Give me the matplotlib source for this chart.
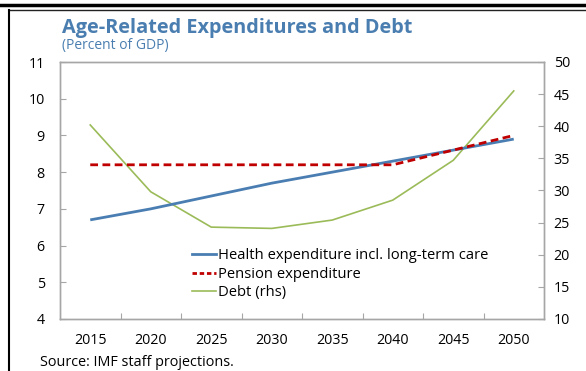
import matplotlib
matplotlib.use("Agg")
import matplotlib.pyplot as plt
from matplotlib.lines import Line2D

plt.rcParams['font.family'] = ['Open Sans', 'DejaVu Sans']

years = ["2015", "2020", "2025", "2030", "2035", "2040", "2045", "2050"]
health = [6.7, 7.0, 7.35, 7.7, 8.0, 8.3, 8.6, 8.9]
pension = [8.2, 8.2, 8.2, 8.2, 8.2, 8.2, 8.6, 9.0]
debt = [40.2, 29.8, 24.3, 24.1, 25.4, 28.5, 34.7, 45.5]
left_ticks = [4, 5, 6, 7, 8, 9, 10, 11]
right_ticks = [10, 15, 20, 25, 30, 35, 40, 45, 50]

W, H = 586, 371
fig = plt.figure(figsize=(W / 100, H / 100), dpi=100)

ax = fig.add_axes([60 / W, 1 - 319 / H, (544 - 60) / W, (319 - 62) / H])
ax2 = ax.twinx()

x = list(range(len(years)))
blue = "#4a7eb3"
red = "#c00000"
green = "#9bbb59"
title_blue = "#4a7eb0"
spine_c = "#a6a6a6"

lh, = ax.plot(x, health, color=blue, lw=2.0, solid_capstyle='butt')
lp, = ax.plot(x, pension, color=red, lw=2.0, dashes=(2.8, 1.6))
ld, = ax2.plot(x, debt, color=green, lw=1.2)
ax.set_zorder(ax2.get_zorder() + 1)
ax.patch.set_visible(False)

ax.set_xlim(-0.5, len(years) - 0.5)
ax.set_ylim(4, 11)
ax2.set_ylim(10, 50)
ax.set_yticks(left_ticks)
ax.set_yticklabels([str(v) for v in left_ticks])
ax2.set_yticks(right_ticks)
ax2.set_yticklabels([str(v) for v in right_ticks])

ax.set_xticks([i + 0.5 for i in range(len(years) - 1)], minor=False)
ax.set_xticklabels([])
ax.set_xticks(x, minor=True)
ax.set_xticklabels(years, minor=True)
ax.tick_params(axis='x', which='major', direction='in', length=4, color=spine_c, width=0.8)
ax.tick_params(axis='x', which='minor', length=0, pad=10, labelsize=10.3)
ax.tick_params(axis='y', direction='in', length=4, color=spine_c, width=0.8, pad=11, labelsize=10.3)
ax2.tick_params(axis='y', direction='in', length=4, color=spine_c, width=0.8, pad=7, labelsize=10.3)

for a in (ax, ax2):
    for s in a.spines.values():
        s.set_color(spine_c)
        s.set_linewidth(1.0)

handles = [Line2D([], [], color=blue, lw=2.0),
           Line2D([], [], color=red, lw=2.0, dashes=(1.6, 1.0)),
           Line2D([], [], color=green, lw=1.2)]
labels = ["Health expenditure incl. long-term care", "Pension expenditure", "Debt (rhs)"]
leg = ax.legend(handles, labels, loc='upper left', bbox_to_anchor=(192 / W, 1 - 248 / H),
                bbox_transform=fig.transFigure, frameon=False, fontsize=10.6,
                handlelength=1.6, handletextpad=0.15, labelspacing=0.25, borderpad=0, borderaxespad=0)

fig.text(62 / W, 1 - 28 / H, "Age-Related Expenditures and Debt", color=title_blue,
         fontsize=14.3, fontweight='bold', va='center', ha='left')
fig.text(62 / W, 1 - 46 / H, "(Percent of GDP)", color=title_blue, fontsize=10,
         va='center', ha='left')
fig.text(40 / W, 1 - 362 / H, "Source: IMF staff projections.", color='black', fontsize=10.4,
         va='center', ha='left')

# frame lines
fig.add_artist(Line2D([0, 1], [1 - 5 / H, 1 - 5 / H], transform=fig.transFigure, color='black', lw=2.5))
fig.add_artist(Line2D([9 / W, 1], [1 - 9.5 / H, 1 - 9.5 / H], transform=fig.transFigure, color='#222222', lw=1.0))
fig.add_artist(Line2D([9 / W, 9 / W], [0, 1 - 9.5 / H], transform=fig.transFigure, color='black', lw=1.5))

fig.savefig("out.png", dpi=100)
